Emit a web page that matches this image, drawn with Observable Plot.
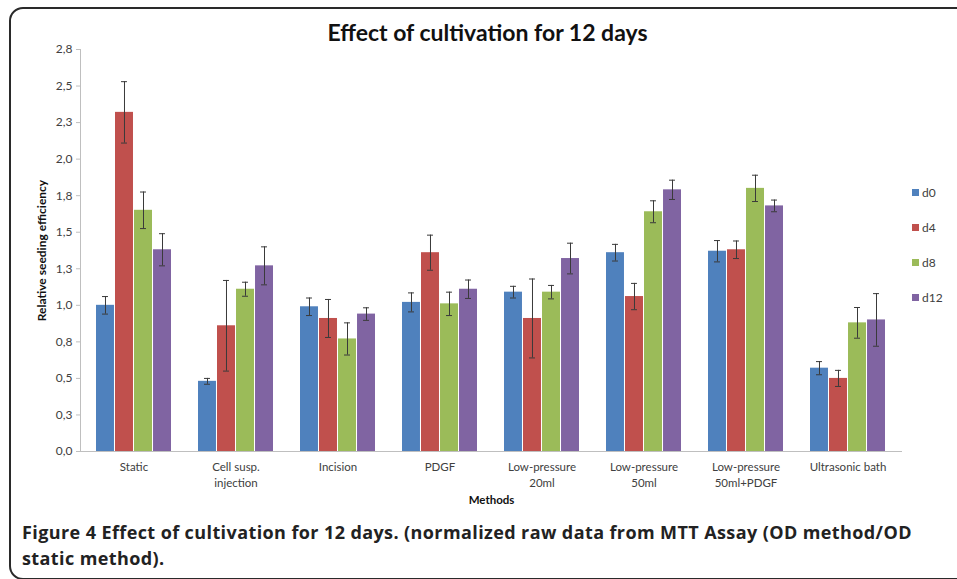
<!DOCTYPE html>
<html><head><meta charset="utf-8">
<script src="https://cdn.jsdelivr.net/npm/d3@7"></script>
<script src="https://cdn.jsdelivr.net/npm/@observablehq/plot@0.6"></script>
<style>
body{margin:0;background:#fff;}
#wrap{position:relative;width:957px;height:579px;overflow:hidden;font-family:Lato,"Open Sans",sans-serif;}
#frame{position:absolute;left:9px;top:7px;width:1000px;height:573px;border:2px solid #2a2a2a;border-radius:14px;box-sizing:border-box;}
#title{position:absolute;left:0;width:975px;top:18px;text-align:center;font-weight:700;font-size:23px;color:#111;white-space:nowrap;}
#chart{position:absolute;left:0;top:0;}
.leg{position:absolute;left:912px;font-size:12px;color:#404040;height:12px;line-height:12px;}
.leg span.sw{position:absolute;left:0;top:2px;width:7px;height:7px;}
.leg span.t{position:absolute;left:10px;top:0;}
#caption{position:absolute;left:22px;top:519px;font-family:"Open Sans",sans-serif;font-size:18px;letter-spacing:0.4px;line-height:26px;font-weight:700;color:#222;white-space:nowrap;}
#caption b{font-weight:700;font-family:"Open Sans",sans-serif;}
</style>
</head><body>
<div id="wrap">
<div id="frame"></div>
<div id="chart"></div>
<div id="title"></div>
<div id="legend"></div>
<div id="caption"></div>
</div>
<script>
const methods = ["Static","Cell susp.\ninjection","Incision","PDGF","Low-pressure\n20ml","Low-pressure\n50ml","Low-pressure\n50ml+PDGF","Ultrasonic bath"];
const series = ["d0","d4","d8","d12"];
const colors = ["#4F81BD","#C0504D","#9BBB59","#8064A2"];
const d0 = [1.00,0.48,0.99,1.02,1.09,1.36,1.37,0.57];
const d4 = [2.32,0.86,0.91,1.36,0.91,1.06,1.38,0.50];
const d8 = [1.65,1.11,0.77,1.01,1.09,1.64,1.80,0.88];
const d12 = [1.38,1.27,0.94,1.11,1.32,1.79,1.68,0.90];
const d0Err = [0.06,0.02,0.06,0.065,0.04,0.057,0.073,0.045];
const d4Err = [0.21,0.31,0.13,0.12,0.27,0.09,0.06,0.055];
const d8Err = [0.125,0.048,0.11,0.08,0.046,0.075,0.09,0.105];
const d12Err = [0.11,0.13,0.043,0.063,0.105,0.066,0.04,0.18];
const yTicks = [0,0.25,0.5,0.75,1,1.25,1.5,1.75,2,2.25,2.5,2.75];
const yTickLabels = ["0,0","0,3","0,5","0,8","1,0","1,3","1,5","1,8","2,0","2,3","2,5","2,8"];
const titleText = "Effect of cultivation for 12 days";
const yLabel = "Relative seeding efficiency";
const xLabel = "Methods";
const captionBold = "Figure 4";
const captionLine1 = " Effect of cultivation for 12 days. (normalized raw data from MTT Assay (OD method/OD";
const captionLine2 = "static method).";

const values = [d0,d4,d8,d12];
const errs = [d0Err,d4Err,d8Err,d12Err];

const W = 957, H = 579, mL = 80, mR = 55, mT = 49, mB = 128;
const padIn = 0.26;
const groupW = (W - mL - mR) / methods.length * (1 - padIn);
const barW = groupW / series.length;

const marks = [];
series.forEach((s, k) => {
  const rows = methods.map((m, i) => ({method: m, value: values[k][i], lo: values[k][i] - errs[k][i], hi: values[k][i] + errs[k][i]}));
  const iL = k * barW, iR = (series.length - 1 - k) * barW;
  const off = -groupW / 2 + k * barW + barW / 2;
  marks.push(Plot.barY(rows, {x: "method", y: "value", fill: colors[k], insetLeft: iL, insetRight: iR}));
  marks.push(Plot.ruleX(rows, {x: "method", y1: "lo", y2: "hi", stroke: "#3a3a3a", dx: off}));
  marks.push(Plot.tickY(rows, {x: "method", y: "hi", stroke: "#3a3a3a", insetLeft: iL + barW/2 - 3.5, insetRight: iR + barW/2 - 3.5}));
  marks.push(Plot.tickY(rows, {x: "method", y: "lo", stroke: "#3a3a3a", insetLeft: iL + barW/2 - 3.5, insetRight: iR + barW/2 - 3.5}));
});

const chart = Plot.plot({
  width: W, height: H,
  marginTop: mT, marginBottom: mB, marginLeft: mL, marginRight: mR,
  style: {fontFamily: "Lato, 'Open Sans', sans-serif", fontSize: "11.5px", background: "transparent"},
  x: {domain: methods, paddingInner: padIn, paddingOuter: padIn / 2},
  y: {domain: [0, 2.75]},
  marks: [
    Plot.axisY(yTicks, {tickFormat: d => yTickLabels[yTicks.indexOf(d)], tickSize: 4, tickPadding: 4, stroke: "#bfbfbf", fill: "#404040", label: null, fontSize: 12}),
    Plot.axisX({tickSize: 0, tickPadding: 8, fill: "#404040", lineHeight: 1.4, label: null, fontSize: 11.5}),
    Plot.frame({anchor: "left", stroke: "#bfbfbf"}),
    Plot.ruleY([0], {stroke: "#bfbfbf"}),
    ...marks,
    Plot.text([yLabel], {frameAnchor: "left", textAnchor: "middle", rotate: -90, dx: -38, fontWeight: "bold", fill: "#111", fontSize: 12}),
    Plot.text([xLabel], {frameAnchor: "bottom", lineAnchor: "middle", dy: 49, fontWeight: "bold", fill: "#111", fontSize: 11.5})
  ]
});
document.getElementById("chart").appendChild(chart);
document.getElementById("title").textContent = titleText;

const leg = document.getElementById("legend");
series.forEach((s, k) => {
  const d = document.createElement("div");
  d.className = "leg";
  d.style.top = (187 + 35 * k) + "px";
  d.innerHTML = `<span class="sw" style="background:${colors[k]}"></span><span class="t">${s}</span>`;
  leg.appendChild(d);
});
const cap = document.getElementById("caption");
const b = document.createElement("b"); b.textContent = captionBold;
cap.appendChild(b);
cap.appendChild(document.createTextNode(captionLine1));
cap.appendChild(document.createElement("br"));
cap.appendChild(document.createTextNode(captionLine2));
</script>
</body></html>
